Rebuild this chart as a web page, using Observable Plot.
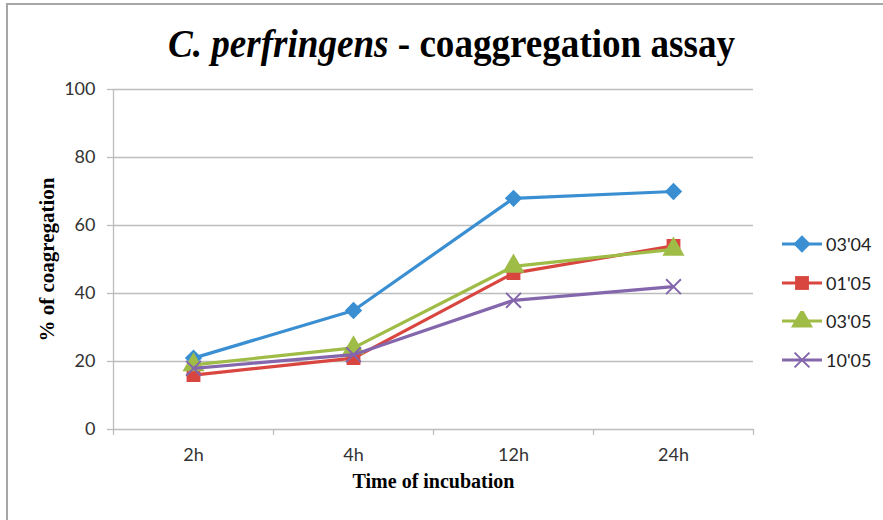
<!DOCTYPE html>
<html><head><meta charset="utf-8">
<script src="https://cdn.jsdelivr.net/npm/d3@7"></script>
<script src="https://cdn.jsdelivr.net/npm/@observablehq/plot@0.6"></script>
<style>
body{margin:0;background:#fff}
#wrap{position:relative;width:883px;height:520px;overflow:hidden;background:#fff}
#frame{position:absolute;left:6px;top:3px;width:900px;height:600px;border-left:2px solid #a6a6a6;border-top:2px solid #a6a6a6;pointer-events:none}
#chart{position:absolute;left:0;top:0}
#title{position:absolute;left:0;top:0}
#legend{position:absolute;left:782px;top:225px;font-family:Lato,'Liberation Sans',sans-serif;font-size:18px;color:#222}
.item{display:flex;align-items:center;height:38.5px}
.item svg{margin-right:4px}
</style></head>
<body>
<div id="wrap">
  <div id="chart"></div>
  <svg id="title" width="883" height="80">
    <text x="451.5" y="57" text-anchor="middle" font-family="'Liberation Serif','DejaVu Serif',serif" font-size="40" font-weight="bold" fill="#000" textLength="567" lengthAdjust="spacingAndGlyphs"><tspan font-style="italic">C. perfringens</tspan> - coaggregation assay</text>
  </svg>
  <div id="legend"></div>
  <div id="frame"></div>
</div>
<script>
const categories = ["2h", "4h", "12h", "24h"];
const seriesNames = ["03'04", "01'05", "03'05", "10'05"];
const s0304 = [21, 35, 68, 70];
const s0105 = [16, 21, 46, 54];
const s0305 = [19, 24, 48, 53];
const s1005 = [18, 22, 38, 42];
const yTicks = [0, 20, 40, 60, 80, 100];
const xLabel = "Time of incubation";
const yLabel = "% of coagregation";

const seriesValues = [s0304, s0105, s0305, s1005];
const colors = ["#3a8fd2", "#d9453f", "#9fbc46", "#8466ad"];
const symbols = ["diamond2", "square", "triangle", "times"];
const radii = [7.8, 7.8, 8.2, 6.8];

const rows = [];
seriesNames.forEach((s, k) => seriesValues[k].forEach((v, i) => rows.push({series: s, i, cat: categories[i], value: v})));
const bounds = d3.range(categories.length + 1).map(i => i - 0.5);

const marks = [
  Plot.gridY(yTicks, {stroke: "#bdbdbd", strokeOpacity: 1, strokeWidth: 1.3}),
  Plot.ruleX([-0.5], {stroke: "#bdbdbd", strokeWidth: 1.3}),
  Plot.axisY({ticks: yTicks, tickSize: 6, tickPadding: 12, stroke: "#bdbdbd", fill: "#333", label: null, strokeWidth: 1.3, fontSize: 18}),
  Plot.axisX({ticks: bounds, tickSize: 6, tickFormat: () => "", stroke: "#bdbdbd", label: null, strokeWidth: 1.3}),
  Plot.axisX({ticks: d3.range(categories.length), tickSize: 0, tickPadding: 19, tickFormat: i => categories[i], fill: "#333", label: null, fontSize: 18}),
  Plot.text([xLabel], {frameAnchor: "bottom", dy: 58, fontFamily: "'Liberation Serif', serif", fontWeight: "bold", fontSize: 20, fill: "#000"}),
  Plot.text([yLabel], {frameAnchor: "left", textAnchor: "middle", dx: -66, rotate: -90, fontFamily: "'Liberation Serif', serif", fontWeight: "bold", fontSize: 21, fill: "#000"})
];
seriesNames.forEach((s, k) => {
  const d = rows.filter(r => r.series === s);
  marks.push(Plot.line(d, {x: "i", y: "value", stroke: colors[k], strokeWidth: 3.2}));
  if (symbols[k] === "times") {
    marks.push(Plot.dot(d, {x: "i", y: "value", symbol: symbols[k], r: radii[k], stroke: colors[k], strokeWidth: 2, fill: "none"}));
  } else {
    marks.push(Plot.dot(d, {x: "i", y: "value", symbol: symbols[k], r: radii[k], fill: colors[k], stroke: "none"}));
  }
});

const chart = Plot.plot({
  width: 883, height: 520,
  marginLeft: 113, marginRight: 130, marginTop: 89, marginBottom: 91,
  x: {domain: [-0.5, categories.length - 0.5], axis: null},
  y: {domain: [0, 100], axis: null},
  style: {fontFamily: "Lato, 'Liberation Sans', sans-serif", fontSize: "16px", background: "transparent", overflow: "visible"},
  marks
});
document.getElementById("chart").appendChild(chart);

// legend
const legend = document.getElementById("legend");
seriesNames.forEach((s, k) => {
  const item = document.createElement("div");
  item.className = "item";
  const svg = d3.create("svg").attr("width", 40).attr("height", 20);
  svg.append("line").attr("x1", 0).attr("x2", 40).attr("y1", 10).attr("y2", 10).attr("stroke", colors[k]).attr("stroke-width", 3.2);
  const symName = symbols[k].charAt(0).toUpperCase() + symbols[k].slice(1);
  const sym = d3.symbol(d3["symbol" + symName], Math.PI * radii[k] * radii[k]);
  const p = svg.append("path").attr("d", sym()).attr("transform", "translate(20,10)");
  if (symbols[k] === "times") p.attr("fill", "none").attr("stroke", colors[k]).attr("stroke-width", 2);
  else p.attr("fill", colors[k]);
  item.appendChild(svg.node());
  const t = document.createElement("span");
  t.textContent = s;
  item.appendChild(t);
  legend.appendChild(item);
});
</script>
</body></html>
